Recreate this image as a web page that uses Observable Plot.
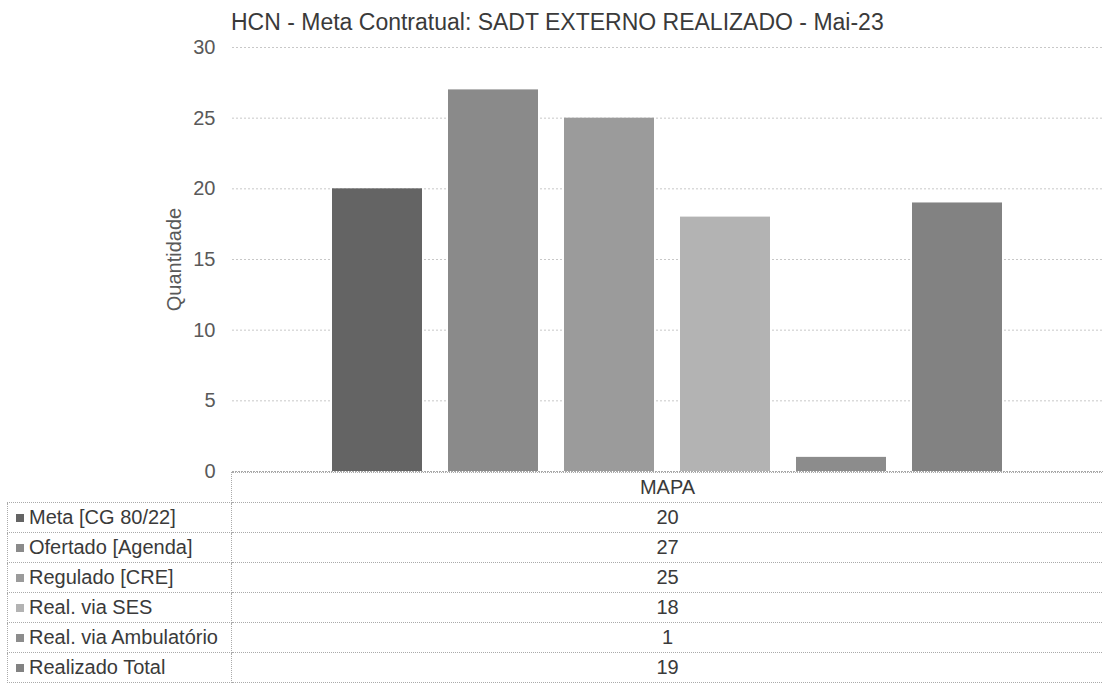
<!DOCTYPE html>
<html>
<head>
<meta charset="utf-8">
<script src="https://cdn.jsdelivr.net/npm/d3@7"></script>
<script src="https://cdn.jsdelivr.net/npm/@observablehq/plot@0.6"></script>
<style>
  html, body { margin: 0; padding: 0; background: #fff; }
  body { font-family: "Liberation Sans", Arial, sans-serif; }
  #wrap { position: relative; width: 1103px; height: 684px; overflow: hidden; }
  #title { height: 28px; padding-top: 8px; line-height: 28px; padding-left: 231px; font-size: 23px; color: #3a3a3a; white-space: nowrap; }
  #chart svg { display: block; }
  #tbl { position: relative; border-collapse: collapse; margin-left: 7px; margin-top: -18px; width: 1096px; table-layout: fixed; font-size: 20px; color: #3a3a3a; }
  #tbl td { height: 29px; padding: 0; border: 1px dotted #aaa; white-space: nowrap; }
  #tbl td.lab { padding-left: 8px; }
  #tbl td.val { text-align: center; }
  #tbl td.corner { border-top: none; border-left: none; border-bottom: 1px dotted #aaa; }
  .sw { display: inline-block; width: 8px; height: 8px; margin-right: 5px; vertical-align: 2px; }
</style>
</head>
<body>
<div id="wrap">
  <div id="title"></div>
  <div id="chart"></div>
  <table id="tbl"></table>
</div>
<script>
const titleText = "HCN - Meta Contratual: SADT EXTERNO REALIZADO - Mai-23";
const yLabel = "Quantidade";
const categories = ["MAPA"];
const series = ["Meta [CG 80/22]", "Ofertado [Agenda]", "Regulado [CRE]", "Real. via SES", "Real. via Ambulatório", "Realizado Total"];
const values = [20, 27, 25, 18, 1, 19];
const yTicks = [0, 5, 10, 15, 20, 25, 30];

const palette = ["#646464", "#8a8a8a", "#9b9b9b", "#b3b3b3", "#8c8c8c", "#828282"];

document.getElementById("title").textContent = titleText;

const data = series.map((s, i) => ({ category: categories[0], series: s, value: values[i] }));

const chart = Plot.plot({
  width: 1103,
  height: 454,
  marginTop: 11,
  marginBottom: 19,
  marginLeft: 232,
  marginRight: 0,
  style: { fontFamily: "Liberation Sans, Arial, sans-serif", fontSize: "20px", color: "#595959", background: "transparent" },
  x: { domain: series, paddingInner: 0.22, paddingOuter: 0.848, axis: null },
  y: { domain: [0, 30] },
  color: { domain: series, range: palette },
  marks: [
    Plot.gridY(yTicks.filter(d => d > 0), { stroke: "#c8c8c8", strokeOpacity: 1, strokeDasharray: "2,2" }),
    Plot.axisY(yTicks, { tickSize: 0, tickPadding: 17, fontSize: 20, fill: "#595959", label: yLabel, labelAnchor: "center", labelOffset: 66, labelArrow: "none" }),
    Plot.barY(data, { x: "series", y: "value", fill: "series" }),
    Plot.ruleY([0], { stroke: "#aaa", strokeDasharray: "2,1" })
  ]
});
document.getElementById("chart").appendChild(chart);

// data table below the chart
const tbl = document.getElementById("tbl");
const colg = document.createElement("colgroup");
colg.innerHTML = '<col style="width:224px"><col style="width:872px">';
tbl.appendChild(colg);
const head = document.createElement("tr");
const c0 = document.createElement("td"); c0.className = "corner"; head.appendChild(c0);
const c1 = document.createElement("td"); c1.className = "val"; c1.textContent = categories[0]; head.appendChild(c1);
tbl.appendChild(head);
series.forEach((s, i) => {
  const tr = document.createElement("tr");
  const a = document.createElement("td"); a.className = "lab";
  const sw = document.createElement("span"); sw.className = "sw"; sw.style.background = palette[i];
  a.appendChild(sw); a.appendChild(document.createTextNode(s));
  const b = document.createElement("td"); b.className = "val"; b.textContent = String(values[i]);
  tr.appendChild(a); tr.appendChild(b);
  tbl.appendChild(tr);
});
</script>
</body>
</html>
